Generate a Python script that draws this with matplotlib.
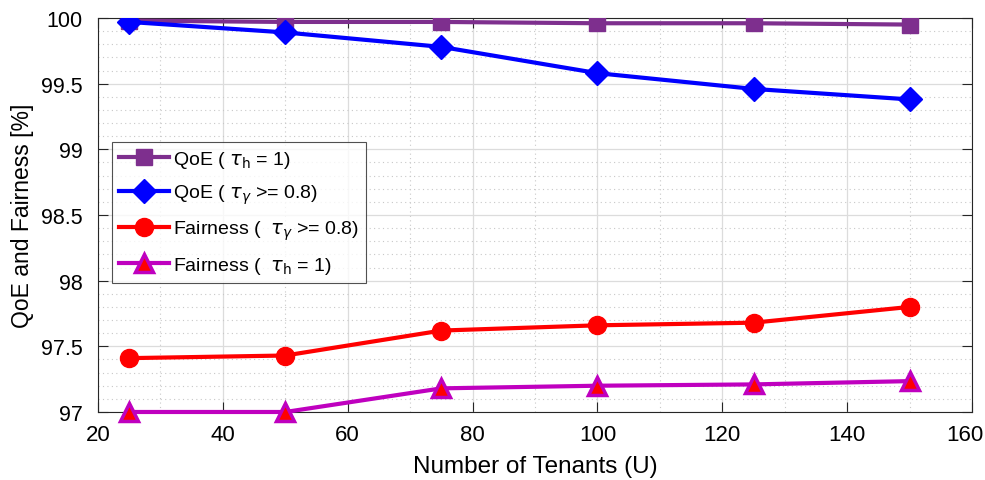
import matplotlib
matplotlib.use("Agg")
import matplotlib.pyplot as plt
import matplotlib.transforms as mtransforms
from matplotlib.ticker import MultipleLocator

"""
QoE and fairness against number of tenants
"""

tenants = [25, 50, 75, 100, 125, 150]
qoe_h = [99.98, 99.97, 99.97, 99.96, 99.96, 99.95]
qoe_gamma = [99.97, 99.89, 99.78, 99.58, 99.46, 99.38]
fair_gamma = [97.41, 97.43, 97.62, 97.66, 97.68, 97.80]
fair_h = [97.0, 97.0, 97.18, 97.20, 97.21, 97.235]

plt.rcParams['font.family'] = ['Liberation Sans', 'DejaVu Sans']
plt.rcParams['mathtext.fontset'] = 'dejavusans'

fig = plt.figure(figsize=(9.85, 4.81), dpi=100)
ax = fig.add_axes([0.0995, 0.1414, 0.8873, 0.8191])

lw = 3
ax.plot(tenants, qoe_h, color='#7E2F8E', lw=lw, marker='s', ms=12,
        label=r'QoE ( $\tau_{\rm h}$ = 1)', zorder=3)
ax.plot(tenants, qoe_gamma, color='#0000FF', lw=lw, marker='D', ms=12.5,
        label=r'QoE ( $\tau_{\gamma}$ >= 0.8)', zorder=4)
ax.plot(tenants, fair_gamma, color='#FF0000', lw=lw, marker='o', ms=13,
        label=r'Fairness (  $\tau_{\gamma}$ >= 0.8)', zorder=3)
ax.plot(tenants, fair_h, color='#BF00BF', lw=lw, marker='^', ms=13,
        markerfacecolor='#FF0000', markeredgecolor='#BF00BF', markeredgewidth=2.5,
        label=r'Fairness (  $\tau_{\rm h}$ = 1)', zorder=3, clip_on=False)

ax.set_xlim(20, 160)
ax.set_ylim(97, 100)
ax.xaxis.set_major_locator(MultipleLocator(20))
ax.xaxis.set_minor_locator(MultipleLocator(10))
ax.yaxis.set_major_locator(MultipleLocator(0.5))
ax.yaxis.set_minor_locator(MultipleLocator(0.1))
ax.yaxis.set_major_formatter(plt.FuncFormatter(lambda v, p: f'{v:g}'))

ax.grid(which='major', color='#dcdcdc', lw=0.9)
ax.grid(which='minor', color='#c8c8c8', lw=0.8, ls=(0, (1, 3)))
ax.set_axisbelow(True)
ax.tick_params(which='both', direction='in', top=True, right=True, labelsize=15.5,
               length=7, width=0.8, color='#262626')
ax.tick_params(axis='y', pad=11)
ax.tick_params(axis='x', pad=9, labelsize=16)
ax.tick_params(which='minor', length=0)
for s in ax.spines.values():
    s.set_color('#262626')
    s.set_linewidth(0.8)

ax.set_xlabel('Number of Tenants (U)', fontsize=17.5, labelpad=7)
ax.set_ylabel('QoE and Fairness [%]', fontsize=16.5, labelpad=5)

# narrow digits on the x axis, last label pulled inside the figure
fig.canvas.draw()
for t in ax.xaxis.get_major_ticks():
    t.label1.set_family(['Liberation Sans Narrow', 'Liberation Sans'])
    if abs(t.get_loc() - 160) < 1e-6:
        t.label1.set_transform(t.label1.get_transform() +
                               mtransforms.ScaledTranslation(-7 / 100, 0, fig.dpi_scale_trans))

leg = ax.legend(loc='upper left', bbox_to_anchor=(0.016, 0.685), fontsize=14,
                frameon=True, fancybox=False, edgecolor='#262626',
                handlelength=2.6, borderpad=0.35, labelspacing=0.65,
                handletextpad=0.2, borderaxespad=0)
leg.get_frame().set_linewidth(0.8)

fig.savefig('out.png', dpi=100)
